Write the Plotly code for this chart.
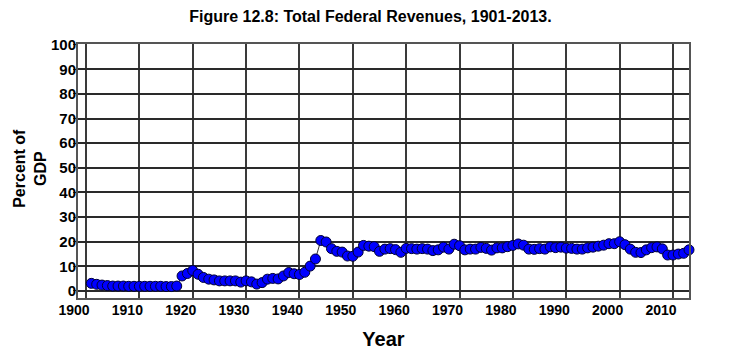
import plotly.graph_objects as go

years = list(range(1901, 2014))
revenue_pct_gdp = [
    # 1901-1910
    3.1, 2.7, 2.4, 2.2, 2.0, 2.0, 2.0, 1.9, 1.9, 1.9,
    # 1911-1920
    1.9, 1.9, 1.9, 1.9, 1.8, 1.8, 2.0, 6.1, 7.1, 8.3,
    # 1921-1930
    6.8, 5.5, 4.8, 4.5, 4.1, 4.1, 4.1, 4.1, 3.6, 4.1,
    # 1931-1940
    3.7, 2.8, 3.4, 4.8, 5.1, 4.9, 6.1, 7.5, 7.0, 6.7,
    # 1941-1950
    7.6, 10.1, 13.0, 20.5, 19.9, 17.2, 16.1, 15.8, 14.2, 14.1,
    # 1951-1960
    15.8, 18.5, 18.2, 18.0, 16.1, 17.0, 17.2, 16.8, 15.7, 17.3,
    # 1961-1970
    17.2, 17.0, 17.2, 17.0, 16.4, 16.7, 17.8, 17.0, 19.0, 18.4,
    # 1971-1980
    16.7, 17.0, 17.0, 17.7, 17.3, 16.6, 17.5, 17.5, 18.0, 18.5,
    # 1981-1990
    19.1, 18.6, 17.0, 16.9, 17.2, 17.0, 17.9, 17.6, 17.8, 17.4,
    # 1991-2000
    17.3, 17.0, 17.0, 17.5, 17.8, 18.2, 18.6, 19.2, 19.2, 20.0,
    # 2001-2010
    18.8, 17.0, 15.7, 15.6, 16.7, 17.6, 17.9, 17.1, 14.6, 14.6,
    # 2011-2013
    15.0, 15.3, 16.7,
]
x_tick_labels = [1900, 1910, 1920, 1930, 1940, 1950, 1960, 1970, 1980, 1990, 2000, 2010]
y_ticks = [0, 10, 20, 30, 40, 50, 60, 70, 80, 90, 100]

FONT = "Liberation Sans, Arial, sans-serif"

fig = go.Figure()
fig.add_trace(go.Scatter(
    x=years, y=revenue_pct_gdp, mode="lines+markers",
    line=dict(color="#333333", width=1),
    marker=dict(size=10, color="#0000ff", line=dict(color="#000033", width=1)),
    cliponaxis=False, showlegend=False,
))

fig.update_layout(
    width=722, height=347,
    margin=dict(l=70, r=41, t=36, b=57, autoexpand=False),
    paper_bgcolor="white", plot_bgcolor="white",
    font=dict(family=FONT, color="black", weight="bold"),
    title=dict(text="Figure 12.8: Total Federal Revenues, 1901-2013.",
               x=0.502, xanchor="center", y=0.976, yanchor="middle",
               font=dict(size=16, family=FONT, weight="bold", color="black")),
    xaxis=dict(
        range=[1898.5, 2013.0], automargin=False,
        tickmode="array",
        tickvals=x_tick_labels,
        ticktext=[str(v) for v in x_tick_labels],
        ticklabelshift=-12, ticklabelstandoff=-2,
        tickfont=dict(size=14, family=FONT, weight="bold"),
        showgrid=True, gridcolor="#3a3a3a", gridwidth=1.5,
        ticks="", zeroline=False,
        showline=True, mirror=True, linecolor="#555555", linewidth=2,
        title=dict(text="Year", font=dict(size=20, family=FONT, weight="bold"), standoff=15),
    ),
    yaxis=dict(
        range=[-2.85, 100.3], automargin=False,
        tickmode="array", tickvals=y_ticks,
        ticklabelstandoff=-6,
        tickfont=dict(size=15, family=FONT, weight="bold"),
        showgrid=True, gridcolor="#2a2a2a", gridwidth=1.5,
        zeroline=False, ticks="outside", ticklen=3, tickcolor="#333333",
        showline=True, mirror=True, linecolor="#555555", linewidth=2,
    ),
    annotations=[dict(
        text="Percent of<br>GDP", textangle=-90, showarrow=False,
        xref="paper", yref="paper", x=-0.078, y=0.51,
        xanchor="center", yanchor="middle",
        font=dict(size=16, family=FONT, weight="bold", color="black"),
    )],
)

fig.write_html("out.html")
